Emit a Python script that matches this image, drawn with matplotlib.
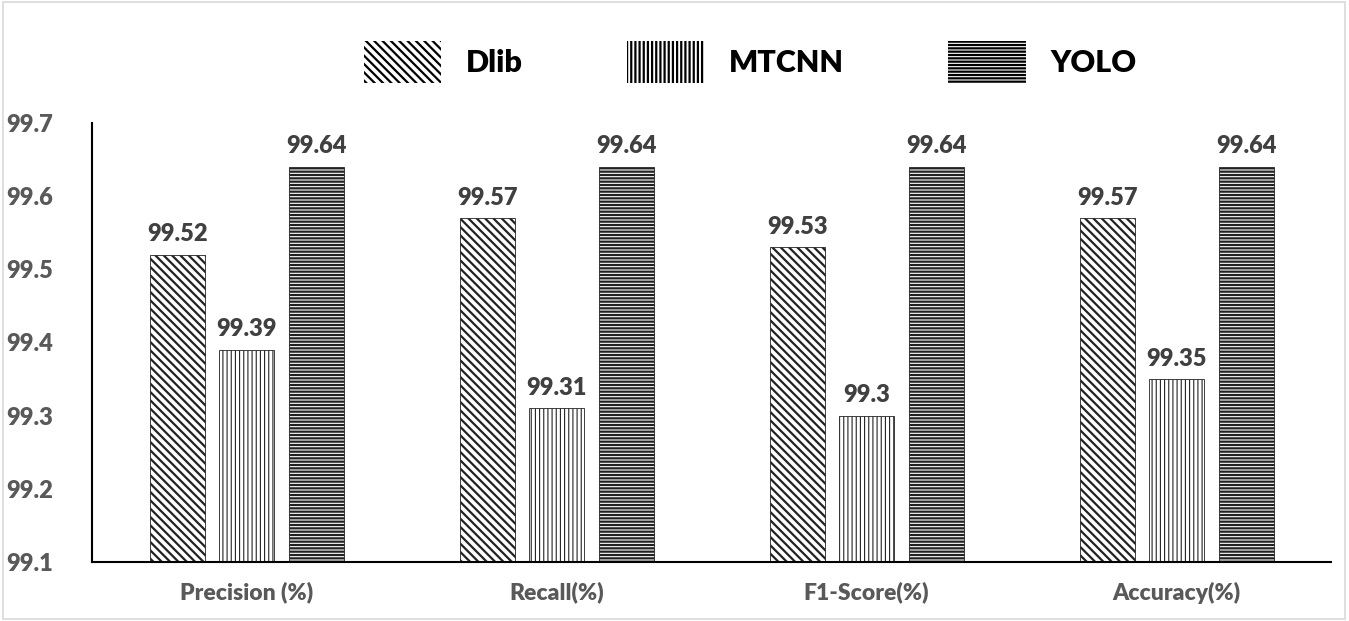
import numpy as np
import matplotlib
matplotlib.use('Agg')
import matplotlib.pyplot as plt
from matplotlib.patches import Rectangle

# donnees
categories = ['Precision (%)', 'Recall(%)', 'F1-Score(%)', 'Accuracy(%)']
methodes = ['Dlib', 'MTCNN', 'YOLO']
dlib = [99.52, 99.57, 99.53, 99.57]
mtcnn = [99.39, 99.31, 99.30, 99.35]
yolo = [99.64, 99.64, 99.64, 99.64]
yticks = [99.1, 99.2, 99.3, 99.4, 99.5, 99.6, 99.7]

plt.rcParams['font.family'] = ['Lato', 'DejaVu Sans']
plt.rcParams['hatch.linewidth'] = 1.6

fig = plt.figure(figsize=(13.49, 6.21), dpi=100)
ax = fig.add_axes([0.068, 0.095, 0.919, 0.707])

x = np.arange(len(categories))
w = 0.178
offsets = [-0.222, 0.0, 0.225]
hatches = ['\\\\\\\\', '||||', '-----']
hatch_lw = [1.6, 0.8, 1.6]
series = [dlib, mtcnn, yolo]

for serie, off, h, hl, nom in zip(series, offsets, hatches, hatch_lw, methodes):
    bars = ax.bar(x + off, np.array(serie) - 99.1, w, bottom=99.1, color='white',
                  edgecolor='#222222', hatch=h, linewidth=0.6, label=nom)
    for b in bars:
        if hasattr(b, 'set_hatch_linewidth'):
            b.set_hatch_linewidth(hl)
    for xi, v in zip(x + off, serie):
        lbl = ('%.2f' % v).rstrip('0')
        ax.text(xi, v + 0.013, lbl, ha='center', va='bottom', fontsize=17,
                fontweight='heavy', color='#404040')

ax.set_xlim(-0.5, 3.5)
ax.set_ylim(99.1, 99.7)
ax.set_yticks(yticks)
ax.set_yticklabels(['%.1f' % t for t in yticks])
ax.set_xticks(x)
ax.set_xticklabels(categories)
for lab in ax.get_yticklabels():
    lab.set_fontsize(17)
    lab.set_fontweight('heavy')
    lab.set_color('#595959')
for lab in ax.get_xticklabels():
    lab.set_fontsize(16.5)
    lab.set_fontweight('heavy')
    lab.set_color('#595959')
ax.tick_params(axis='y', length=0, pad=28)
ax.tick_params(axis='x', length=0, pad=14)
ax.spines['top'].set_visible(False)
ax.spines['right'].set_visible(False)
ax.spines['left'].set_linewidth(1.5)
ax.spines['bottom'].set_linewidth(1.5)

leg = fig.legend(loc='center', bbox_to_anchor=(0.556, 0.9), ncol=3, frameon=False,
                 handlelength=2.55, handleheight=1.7, columnspacing=3.4,
                 handletextpad=0.8, prop={'size': 22, 'weight': 'heavy'})
for p in leg.get_patches():
    p.set_edgecolor('black')
    p.set_linewidth(0)

# cadre gris autour de la figure
fig.patches.append(Rectangle((0.002, 0.003), 0.995, 0.994, transform=fig.transFigure,
                             fill=False, edgecolor='#d9d9d9', linewidth=1.2))

fig.savefig('out.png', dpi=100)
